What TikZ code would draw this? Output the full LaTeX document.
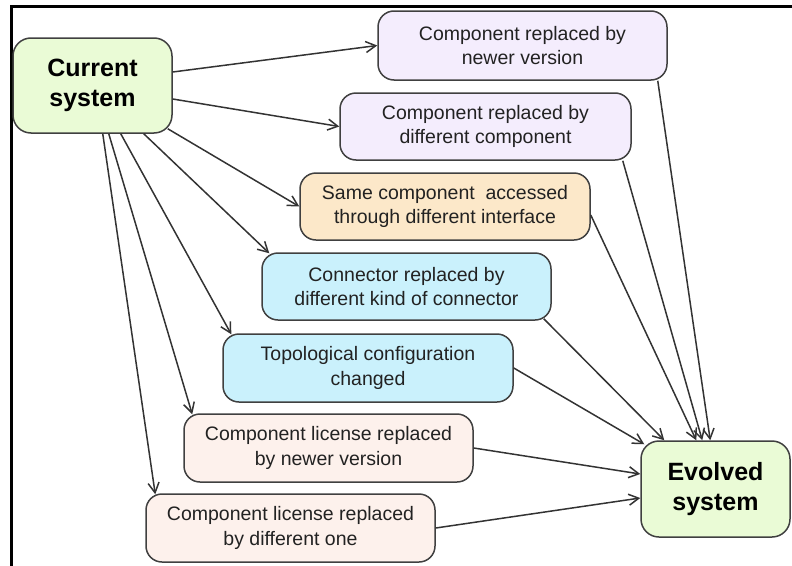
\documentclass[tikz,border=0pt]{standalone}
\usepackage{fontspec}
\setmainfont{Liberation Sans}
\usetikzlibrary{arrows.meta}
\definecolor{sysgreen}{RGB}{234,251,214}
\definecolor{lav}{RGB}{244,237,253}
\definecolor{peach}{RGB}{252,232,201}
\definecolor{cyanbox}{RGB}{202,241,252}
\definecolor{pinkbox}{RGB}{253,241,236}
\definecolor{edge}{RGB}{64,64,64}
\definecolor{txt}{RGB}{34,34,34}
\tikzset{
  box/.style={draw=edge, line width=1.5pt, rounded corners=16pt, inner sep=0pt,
    minimum width=289pt, minimum height=68pt, align=center, text=txt,
    font=\fontsize{19.5}{24.5}\selectfont},
  sysbox/.style={box, rounded corners=18pt, minimum width=159pt, minimum height=95pt,
    fill=sysgreen, text=black, font=\fontsize{25}{30}\selectfont\bfseries},
  arr/.style={draw=black!80, line width=1.5pt, -{Straight Barb[length=10pt,width=11pt,line width=1.5pt]}}
}
\begin{document}
\begin{tikzpicture}[x=1pt,y=-1pt]
\useasboundingbox (0,0) rectangle (792,565);
\draw[line width=2.6pt, line cap=butt] (800,6.5) -- (11.5,6.5) -- (11.5,575);

\node[sysbox] (cur) at (92.5,85.5) {Current\\system};
\node[sysbox, minimum width=149pt, minimum height=96pt] (evo) at (715.5,489) {Evolved\\system};

\node[box, fill=lav, minimum height=69pt] (n1) at (522.5,45.5) {Component replaced by\\newer version};
\node[box, fill=lav, minimum width=291pt, minimum height=67pt] (n2) at (485.5,126.5) {Component replaced by\\different component};
\node[box, fill=peach, minimum width=290pt, minimum height=67pt] (n3) at (445,206.5) {Same component\ \ accessed\\through different interface};
\node[box, fill=cyanbox, minimum height=67pt] (n4) at (406.5,286.5) {Connector replaced by\\different kind of connector};
\node[box, fill=cyanbox, minimum width=290pt] (n5) at (368,368) {Topological configuration\\changed};
\node[box, fill=pinkbox] (n6) at (328.5,448) {Component license replaced\\by newer version};
\node[box, fill=pinkbox] (n7) at (290.5,528) {Component license replaced\\by different one};

\draw[arr] ([yshift=13.5pt]cur.east) -- (n1.west);
\draw[arr] ([yshift=-13.5pt]cur.east) -- (n2.west);
\draw[arr] ([xshift=-5pt,yshift=5pt]cur.south east) -- (n3.west);
\draw[arr] ([xshift=-29pt]cur.south east) -- ([xshift=8pt,yshift=-1pt]n4.north west);
\draw[arr] ([xshift=-52pt]cur.south east) -- ([xshift=9pt,yshift=-1pt]n5.north west);
\draw[arr] ([xshift=-64pt]cur.south east) -- ([xshift=9pt,yshift=-1pt]n6.north west);
\draw[arr] ([xshift=-70pt]cur.south east) -- ([xshift=10pt,yshift=-1pt]n7.north west);

\draw[arr] ([xshift=-10pt]n1.south east) -- ([xshift=70pt]evo.north west);
\draw[arr] ([xshift=-9pt]n2.south east) -- ([xshift=62pt]evo.north west);
\draw[arr] ([yshift=-8.5pt]n3.east) -- ([xshift=56pt]evo.north west);
\draw[arr] ([xshift=-8pt,yshift=2pt]n4.south east) -- ([xshift=24pt]evo.north west);
\draw[arr] (n5.east) -- ([xshift=4pt,yshift=-4pt]evo.north west);
\draw[arr] (n6.east) -- ([yshift=15pt]evo.west);
\draw[arr] (n7.east) -- ([yshift=-9pt]evo.west);
\end{tikzpicture}
\end{document}
